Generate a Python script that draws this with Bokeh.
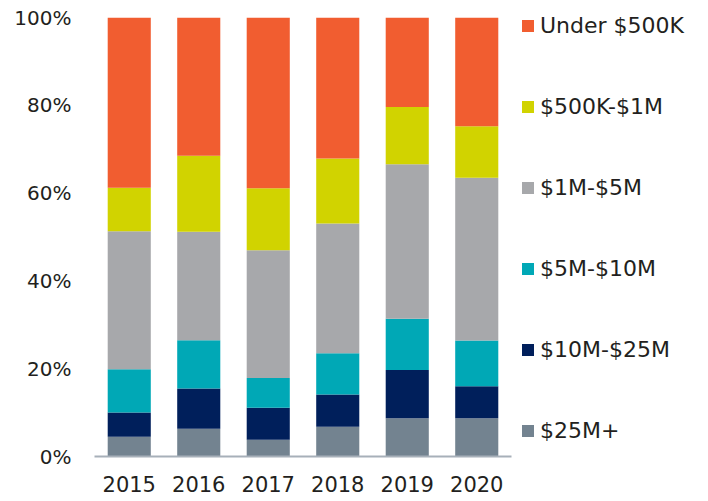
from bokeh.plotting import figure
from bokeh.models import (ColumnDataSource, FactorRange, Range1d, FixedTicker,
                          PrintfTickFormatter, Legend, LegendItem)
from bokeh.embed import file_html
from bokeh.resources import INLINE

years = ["2015", "2016", "2017", "2018", "2019", "2020"]
series = ["$25M+", "$10M-$25M", "$5M-$10M", "$1M-$5M", "$500K-$1M", "Under $500K"]
colors = ["#738390", "#001F5B", "#00A8B6", "#A7A8AB", "#D1D300", "#F15D30"]

v_25m_plus = [4.5, 6.3, 3.8, 6.8, 8.7, 8.7]
v_10m_25m = [5.5, 9.2, 7.3, 7.3, 11.0, 7.3]
v_5m_10m = [9.9, 11.0, 6.8, 9.4, 11.7, 10.4]
v_1m_5m = [31.4, 24.7, 29.1, 29.6, 35.2, 37.1]
v_500k_1m = [9.9, 17.3, 14.1, 14.8, 13.0, 11.7]
v_under_500k = [38.8, 31.5, 38.9, 32.1, 20.4, 24.8]

data = {"year": years}
for name, vals in zip(series, [v_25m_plus, v_10m_25m, v_5m_10m, v_1m_5m, v_500k_1m, v_under_500k]):
    data[name] = vals
source = ColumnDataSource(data)

FONT = "DejaVu Sans"
TXT = "#231F20"

p = figure(x_range=FactorRange(*years, range_padding=0), y_range=Range1d(0, 100),
           frame_width=417, frame_height=439, output_backend="svg", toolbar_location=None,
           min_border_left=94, min_border_top=17, min_border_bottom=40, min_border_right=0)

renderers = p.vbar_stack(series, x="year", width=0.62, source=source, color=colors,
                         line_color=None)

p.xgrid.visible = False
p.ygrid.visible = False
p.outline_line_color = None

p.yaxis.ticker = FixedTicker(ticks=[0, 20, 40, 60, 80, 100])
p.yaxis.formatter = PrintfTickFormatter(format="%d%%")
p.yaxis.axis_line_color = None
p.yaxis.major_tick_line_color = None
p.yaxis.minor_tick_line_color = None
p.yaxis.major_label_standoff = 17
p.yaxis.major_label_text_font = FONT
p.yaxis.major_label_text_font_size = "20px"
p.yaxis.major_label_text_color = TXT

p.xaxis.axis_line_color = "#A7B0B9"
p.xaxis.axis_line_width = 2
p.xaxis.major_tick_line_color = None
p.xaxis.minor_tick_line_color = None
p.xaxis.major_label_standoff = 13
p.xaxis.major_label_text_font = FONT
p.xaxis.major_label_text_font_size = "21px"
p.xaxis.major_label_text_color = TXT

items = [LegendItem(label=s, renderers=[r]) for s, r in zip(series, renderers)][::-1]
legend = Legend(items=items, location=(9, 13), margin=0, padding=0,
                glyph_width=15, glyph_height=15, label_height=26,
                spacing=55, label_standoff=5,
                label_text_font=FONT, label_text_font_size="22px",
                label_text_color=TXT, border_line_color=None,
                background_fill_alpha=0)
p.add_layout(legend, "right")

open("out.html", "w").write(file_html(p, INLINE))
